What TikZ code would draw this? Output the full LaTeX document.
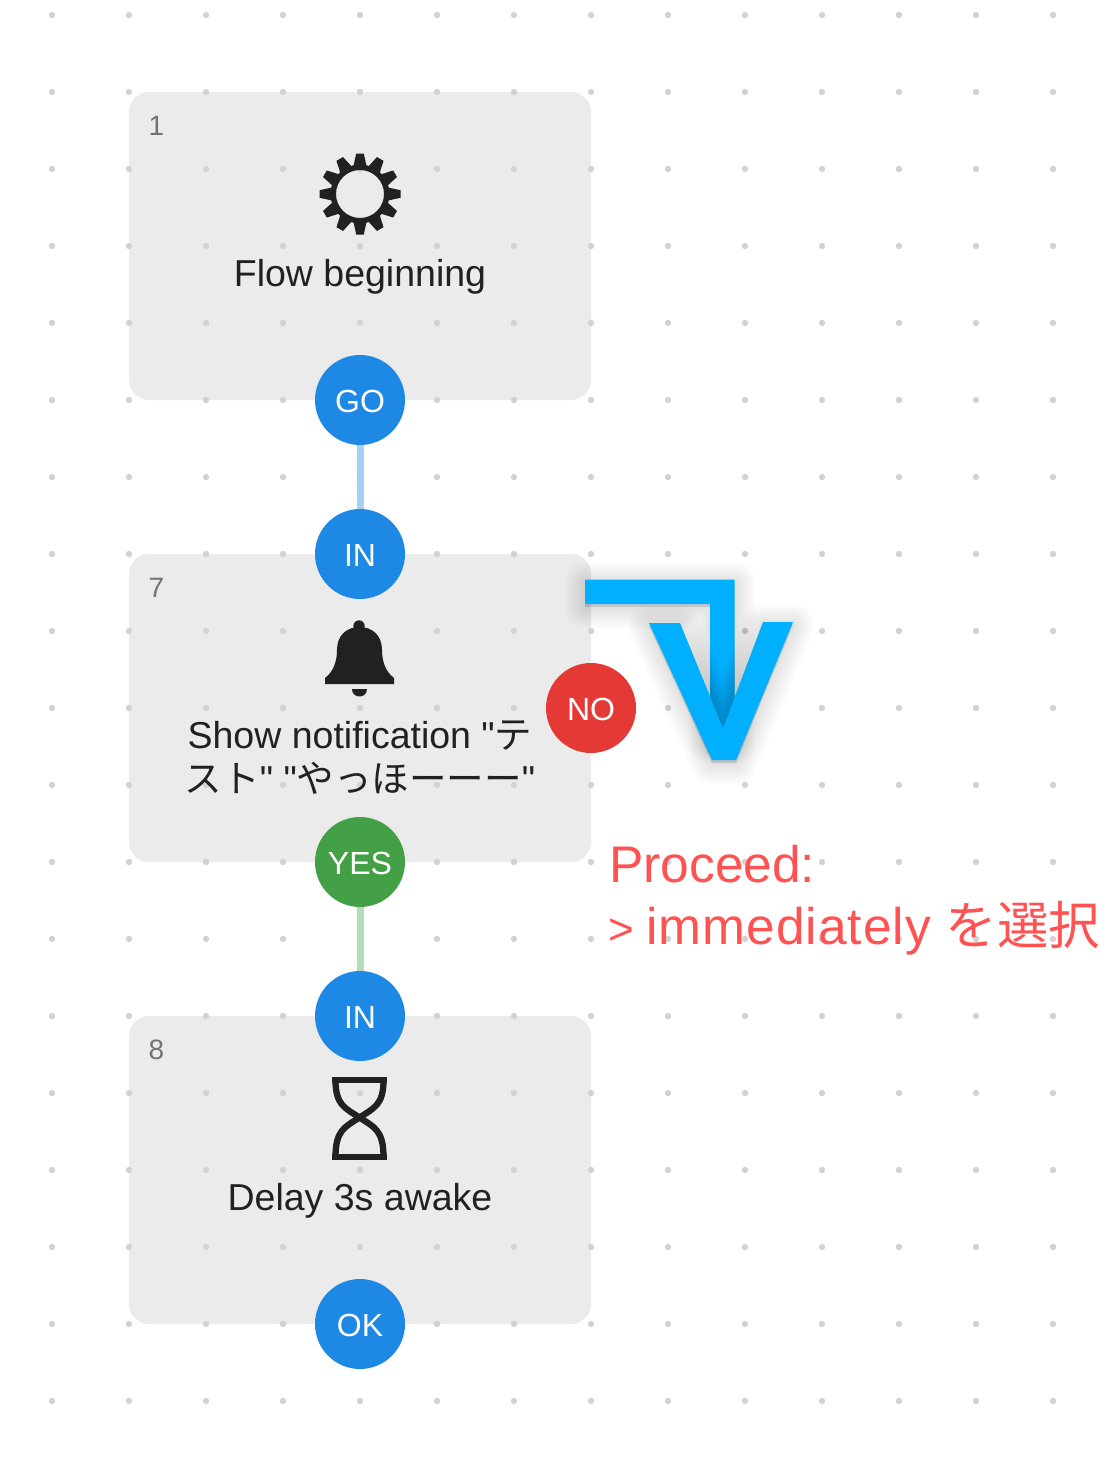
\documentclass[tikz,border=0pt]{standalone}
\usepackage{fontspec}
\setmainfont[Ligatures=TeXOff]{Liberation Sans}
\newfontfamily\cjk[Ligatures=TeXOff]{Noto Sans CJK JP}
\definecolor{boxgray}{HTML}{EBEBEB}
\definecolor{dotgray}{HTML}{D2D2D2}
\definecolor{portblue}{HTML}{1E88E5}
\definecolor{portred}{HTML}{E53935}
\definecolor{portgreen}{HTML}{43A047}
\definecolor{linkblue}{HTML}{A5CFF4}
\definecolor{linkgreen}{HTML}{B4DAB6}
\definecolor{arrowblue}{HTML}{00B0FF}
\definecolor{notered}{HTML}{FF5252}
\definecolor{ink}{HTML}{212121}
\tikzset{
  flowbox/.style={rectangle,rounded corners=20pt,fill=boxgray,minimum width=462pt,minimum height=308pt,inner sep=0pt},
  port/.style={circle,minimum size=90pt,inner sep=0pt,text=white,text height=25pt,text depth=0pt,font=\fontsize{32}{40}\selectfont},
  numlabel/.style={anchor=base west,inner sep=0pt,text=black!55,font=\fontsize{28}{32}\selectfont},
  title/.style={anchor=base,inner sep=0pt,text=ink,align=center,font=\fontsize{37.5}{42.5}\selectfont},
  note/.style={anchor=base west,inner sep=0pt,text=notered,font=\fontsize{51.5}{60}\selectfont},
  link/.style={line width=7pt},
  softshadow/.style={black,opacity=0.009,line join=round}
}
\begin{document}
\begin{tikzpicture}[x=1pt,y=-1pt]
\useasboundingbox (0,0) rectangle (1118,1457);
\fill[white] (0,0) rectangle (1118,1457);
% boxes
\node[flowbox] (box1) at (360,246) {};
\node[flowbox] (box7) at (360,708) {};
\node[flowbox] (box8) at (360,1170) {};
% dot grid
\foreach \gx in {52,129,...,1053}
  \foreach \gy in {15,92,...,1401}
    {\fill[dotgray] (\gx,\gy) circle (3.2);}
% box numbers
\node[numlabel] (n1) at (148.5,135.5) {1};
\node[numlabel] (n7) at (148.5,597.5) {7};
\node[numlabel] (n8) at (148.5,1059.5) {8};
% gear
\begin{scope}[shift={(360,194)}]
  \foreach \a in {0,30,...,330}
    {\fill[ink,rotate=\a] (-6.5,-28) -- (-3.8,-40.5) -- (3.8,-40.5) -- (6.5,-28) -- cycle;}
  \draw[ink,line width=5.5pt] (0,0) circle (26.75);
\end{scope}
% bell
\fill[ink] (359,626) circle (5.7);
\fill[ink] (325,684) -- (325,678) .. controls (333,672) and (337,662) .. (337,650)
  .. controls (337,636) and (346,627) .. (359.5,627)
  .. controls (373,627) and (382,636) .. (382,650)
  .. controls (382,662) and (386,672) .. (394,678) -- (394,684) -- cycle;
\fill[ink] (352,689) -- (367,689) .. controls (367,699) and (352,699) .. (352,689) -- cycle;
% hourglass
\fill[ink] (332,1077) rectangle (387,1083);
\fill[ink] (332,1154) rectangle (387,1160);
\draw[ink,line width=6.3pt] (335.5,1080) .. controls (335.5,1105) and (345,1108) .. (359.5,1117.5)
  .. controls (374,1127) and (383.5,1130) .. (383.5,1157);
\draw[ink,line width=6.3pt] (383.5,1080) .. controls (383.5,1105) and (374,1108) .. (359.5,1117.5)
  .. controls (345,1127) and (335.5,1130) .. (335.5,1157);
% titles
\node[title] (t1) at (360,286.5) {Flow beginning};
\node[title] (t7a) at (360,748.5) {Show notification "{\cjk テ}};
\node[title] (t7b) at (360,792) {{\cjk スト}" "{\cjk やっほーーー}"};
\node[title] (t8) at (360,1210.5) {Delay 3s awake};
% ports
\node[port,fill=portblue] (go) at (360,400) {GO};
\node[port,fill=portblue] (in7) at (360,554) {IN};
\node[port,fill=portred] (no) at (591,708) {NO};
\node[port,fill=portgreen] (yes) at (360,862) {YES};
\node[port,fill=portblue] (in8) at (360,1016) {IN};
\node[port,fill=portblue] (ok) at (360,1324) {OK};
\draw[link,linkblue] (go) -- (in7);
\draw[link,linkgreen] (yes) -- (in8);
% big arrow with soft shadows
\def\ellpath{(585,579.5) -- (734.5,579.5) -- (734.5,740) -- (710,740) -- (710,604) -- (585,604) -- cycle}
\def\veepath{(649,623) -- (680,623) -- (723,728) -- (763,622) -- (793,622) -- (736,760) -- (712,760) -- cycle}
\foreach \w in {1,4,...,43}
  {\filldraw[softshadow,line width=\w pt,shift={(0,3)}] \ellpath;}
\foreach \w in {1,4,...,43}
  {\filldraw[softshadow,line width=\w pt,shift={(0,3)}] \veepath;}
\fill[arrowblue] \ellpath;
\begin{scope}
  \clip (710,604) rectangle (734.5,740);
  \foreach \w in {2,5,...,41}
    {\filldraw[softshadow,opacity=0.014,line width=\w pt] \veepath;}
\end{scope}
\fill[arrowblue] \veepath;
% note
\node[note] (p1) at (609,882) {Proceed:};
\node[note] (p2) at (608,944) {{\fontsize{44}{60}\selectfont >}\hspace{-2pt} {\addfontfeature{LetterSpace=2}immediately} {\cjk を選択}};
\end{tikzpicture}
\end{document}
